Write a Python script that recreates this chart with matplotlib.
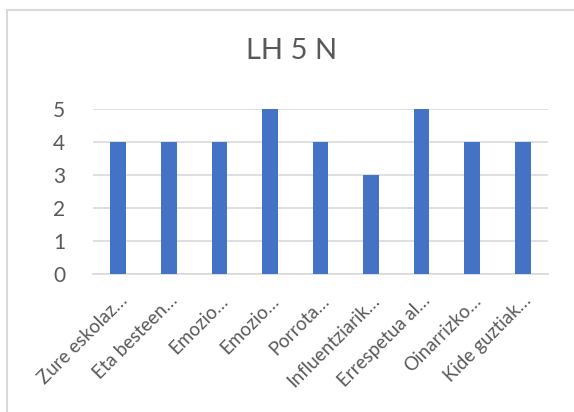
import matplotlib
matplotlib.use("Agg")
import matplotlib.pyplot as plt
from matplotlib.patches import Rectangle

categories = [
    "Zure eskolaz…", "Eta besteen…", "Emozio…", "Emozio…", "Porrota…",
    "Influentziarik…", "Errespetua al…", "Oinarrizko…", "Kide guztiak…",
]
values = [4, 4, 4, 5, 4, 3, 5, 4, 4]
title = "LH 5 N"

plt.rcParams["font.family"] = ["Lato", "DejaVu Sans"]
text_color = "#595959"
grid_color = "#D9D9D9"

fig = plt.figure(figsize=(5.74, 4.12), dpi=100)
ax = fig.add_axes([93 / 574, 1 - 273.7 / 412, 455 / 574, 164.7 / 412])

x = range(len(values))
ax.bar(x, values, width=0.31, color="#4472C4", zorder=3)
ax.set_xlim(-0.5, len(values) - 0.5)
ax.set_ylim(0, 5)
ax.set_yticks(range(0, 6))
ax.set_xticks(list(x))
ax.set_xticklabels(categories, rotation=45, ha="right", rotation_mode="anchor",
                   fontsize=13.5, color=text_color)
ax.tick_params(axis="y", length=0, pad=20, labelsize=15, labelcolor=text_color)
ax.tick_params(axis="x", length=0, pad=13)
ax.yaxis.grid(True, color=grid_color, linewidth=1.2, zorder=0)
for side in ["top", "right", "left"]:
    ax.spines[side].set_visible(False)
ax.spines["bottom"].set_color(grid_color)
ax.spines["bottom"].set_linewidth(1.2)

fig.text(291.5 / 574, 1 - 51 / 412, title, ha="center", va="center",
         fontsize=21, color=text_color)

# chart frame
fig.patches.append(Rectangle((7 / 574, -0.1), 1.2, 1 - 10 / 412 + 0.1,
                             transform=fig.transFigure, fill=False,
                             edgecolor=grid_color, linewidth=1.5))

fig.savefig("out.png", dpi=100)
